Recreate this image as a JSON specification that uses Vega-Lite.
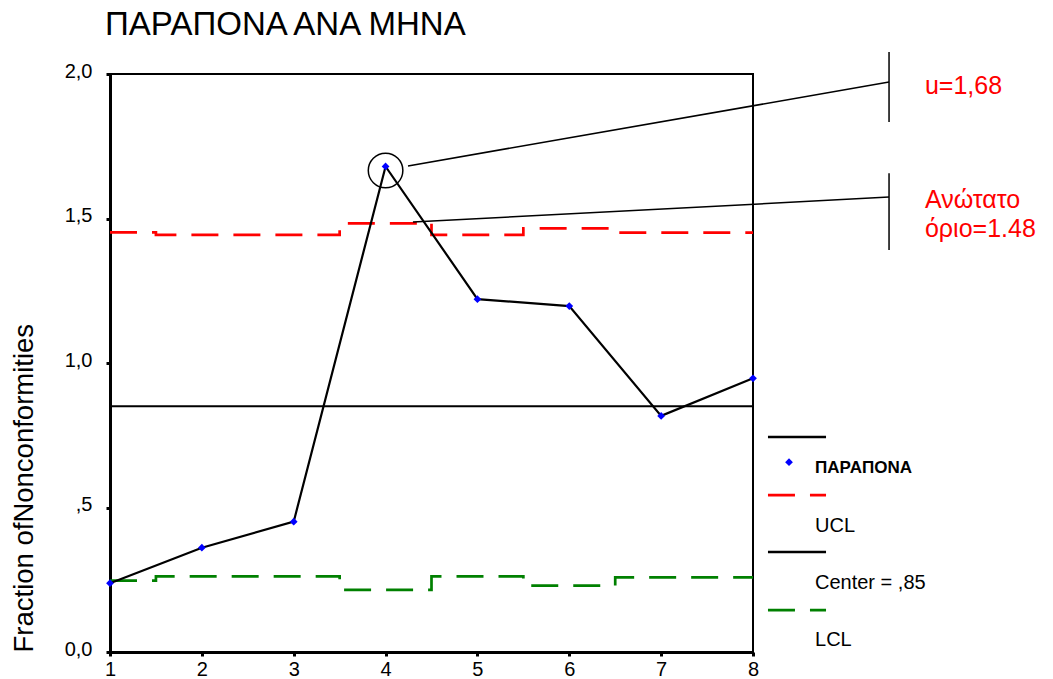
{
  "$schema": "https://vega.github.io/schema/vega-lite/v6.json",
  "width": 643,
  "height": 578,
  "autosize": {"type": "none"},
  "padding": {"left": 110, "top": 74, "right": 300, "bottom": 27},
  "background": "white",
  "config": {
    "font": "Liberation Sans",
    "view": {"stroke": "black", "strokeWidth": 2},
    "axis": {"grid": false, "domainColor": "black", "domainWidth": 3, "tickColor": "black", "labelColor": "black", "titleColor": "black", "labelFont": "Liberation Sans", "titleFont": "Liberation Sans", "labelFontSize": 20, "tickSize": 4, "tickWidth": 3, "labelFlush": false}
  },
  "title": {
    "text": "ΠΑΡΑΠΟΝΑ ΑΝΑ ΜΗΝΑ",
    "anchor": "start",
    "frame": "group",
    "dx": -5,
    "offset": 9,
    "fontSize": 33,
    "fontWeight": "normal",
    "font": "Liberation Sans",
    "color": "black"
  },
  "datasets": {
    "months": [
      {"month": 1, "u": 0.238, "ucl": 1.452, "lcl": 0.247, "center": 0.85},
      {"month": 2, "u": 0.361, "ucl": 1.443, "lcl": 0.262, "center": 0.85},
      {"month": 3, "u": 0.451, "ucl": 1.443, "lcl": 0.262, "center": 0.85},
      {"month": 4, "u": 1.68, "ucl": 1.483, "lcl": 0.215, "center": 0.85},
      {"month": 5, "u": 1.221, "ucl": 1.443, "lcl": 0.262, "center": 0.85},
      {"month": 6, "u": 1.197, "ucl": 1.466, "lcl": 0.23, "center": 0.85},
      {"month": 7, "u": 0.817, "ucl": 1.451, "lcl": 0.258, "center": 0.85},
      {"month": 8, "u": 0.947, "ucl": 1.451, "lcl": 0.258, "center": 0.85}
    ],
    "callouts": [
      {"xa": 4.244, "ya": 1.682, "xb": 9.481, "yb": 1.972},
      {"xa": 9.481, "ya": 2.076, "xb": 9.481, "yb": 1.834},
      {"xa": 4.298, "ya": 1.488, "xb": 9.481, "yb": 1.574},
      {"xa": 9.481, "ya": 1.657, "xb": 9.481, "yb": 1.391}
    ],
    "notes": [
      {"x": 9.872, "y": 1.931, "text": "u=1,68"},
      {"x": 9.872, "y": 1.536, "text": "Ανώτατο"},
      {"x": 9.872, "y": 1.436, "text": "όριο=1.48"}
    ],
    "keyLines": [
      {"x": 8.163, "x2": 8.795, "y": 0.744, "item": "series"},
      {"x": 8.163, "x2": 8.795, "y": 0.543, "item": "ucl"},
      {"x": 8.163, "x2": 8.795, "y": 0.346, "item": "center"},
      {"x": 8.163, "x2": 8.795, "y": 0.145, "item": "lcl"}
    ],
    "keyText": [
      {"x": 8.675, "y": 0.6367, "text": "ΠΑΡΑΠΟΝΑ", "weight": "bold"},
      {"x": 8.675, "y": 0.436, "text": "UCL", "weight": "normal"},
      {"x": 8.675, "y": 0.2388, "text": "Center = ,85", "weight": "normal"},
      {"x": 8.675, "y": 0.0415, "text": "LCL", "weight": "normal"}
    ]
  },
  "layer": [
    {
      "data": {"name": "months"},
      "mark": {"type": "line", "interpolate": "step", "color": "#ff0000", "strokeWidth": 2.7, "strokeDash": [27, 15]},
      "encoding": {
        "x": {"field": "month", "type": "quantitative", "scale": {"domain": [1, 8], "nice": false, "zero": false},
          "axis": {"values": [1, 2, 3, 4, 5, 6, 7, 8], "format": "d", "title": null, "labelPadding": 3}},
        "y": {"field": "ucl", "type": "quantitative", "scale": {"domain": [0, 2], "nice": false, "zero": true},
          "axis": {"values": [0, 0.5, 1, 1.5, 2], "title": "Fraction ofNonconformities", "titleFontSize": 27.5, "titleFontWeight": "normal",
            "titleAngle": 270, "titleX": -78, "titleY": 578, "titleAlign": "left", "titleBaseline": "alphabetic",
            "labelExpr": "datum.value == 0 ? '0,0' : datum.value < 1 ? ',5' : replace(format(datum.value, '.1f'), '.', ',')",
            "labelPadding": 14, "labelBaseline": "middle", "labelOffset": -3}}
      }
    },
    {
      "data": {"name": "months"},
      "mark": {"type": "line", "interpolate": "step", "color": "#008000", "strokeWidth": 2.7, "strokeDash": [27, 15]},
      "encoding": {
        "x": {"field": "month", "type": "quantitative"},
        "y": {"field": "lcl", "type": "quantitative"}
      }
    },
    {
      "data": {"name": "months"},
      "mark": {"type": "line", "color": "black", "strokeWidth": 2},
      "encoding": {
        "x": {"field": "month", "type": "quantitative"},
        "y": {"field": "center", "type": "quantitative"}
      }
    },
    {
      "data": {"name": "months"},
      "mark": {"type": "line", "color": "black", "strokeWidth": 2.2},
      "encoding": {
        "x": {"field": "month", "type": "quantitative"},
        "y": {"field": "u", "type": "quantitative"}
      }
    },
    {
      "data": {"name": "months"},
      "mark": {"type": "point", "shape": "diamond", "filled": true, "color": "#0000ff", "size": 60, "opacity": 1},
      "encoding": {
        "x": {"field": "month", "type": "quantitative"},
        "y": {"field": "u", "type": "quantitative"}
      }
    },
    {
      "data": {"name": "months"},
      "transform": [{"filter": "datum.month == 4"}],
      "mark": {"type": "point", "shape": "circle", "filled": false, "color": "black", "strokeWidth": 1.5, "size": 1195, "opacity": 1, "yOffset": 4},
      "encoding": {
        "x": {"field": "month", "type": "quantitative"},
        "y": {"field": "u", "type": "quantitative"}
      }
    },
    {
      "data": {"name": "callouts"},
      "mark": {"type": "rule", "color": "black", "strokeWidth": 1.5},
      "encoding": {
        "x": {"field": "xa", "type": "quantitative"},
        "y": {"field": "ya", "type": "quantitative"},
        "x2": {"field": "xb"},
        "y2": {"field": "yb"}
      }
    },
    {
      "data": {"name": "notes"},
      "mark": {"type": "text", "align": "left", "baseline": "alphabetic", "fontSize": 25, "color": "#ff0000", "font": "Liberation Sans"},
      "encoding": {
        "x": {"field": "x", "type": "quantitative"},
        "y": {"field": "y", "type": "quantitative"},
        "text": {"field": "text"}
      }
    },
    {
      "data": {"name": "keyLines"},
      "transform": [{"filter": "datum.item == 'series' || datum.item == 'center'"}],
      "mark": {"type": "rule", "color": "black", "strokeWidth": 2.5},
      "encoding": {
        "x": {"field": "x", "type": "quantitative"},
        "x2": {"field": "x2"},
        "y": {"field": "y", "type": "quantitative"}
      }
    },
    {
      "data": {"name": "keyLines"},
      "transform": [{"filter": "datum.item == 'ucl'"}],
      "mark": {"type": "rule", "color": "#ff0000", "strokeWidth": 2.7, "strokeDash": [27, 15]},
      "encoding": {
        "x": {"field": "x", "type": "quantitative"},
        "x2": {"field": "x2"},
        "y": {"field": "y", "type": "quantitative"}
      }
    },
    {
      "data": {"name": "keyLines"},
      "transform": [{"filter": "datum.item == 'lcl'"}],
      "mark": {"type": "rule", "color": "#008000", "strokeWidth": 2.7, "strokeDash": [27, 15]},
      "encoding": {
        "x": {"field": "x", "type": "quantitative"},
        "x2": {"field": "x2"},
        "y": {"field": "y", "type": "quantitative"}
      }
    },
    {
      "data": {"values": [{"x": 8.392, "y": 0.657}]},
      "mark": {"type": "point", "shape": "diamond", "filled": true, "color": "#0000ff", "size": 60, "opacity": 1},
      "encoding": {
        "x": {"field": "x", "type": "quantitative"},
        "y": {"field": "y", "type": "quantitative"}
      }
    },
    {
      "data": {"name": "keyText"},
      "transform": [{"filter": "datum.weight == 'bold'"}],
      "mark": {"type": "text", "align": "left", "baseline": "middle", "fontSize": 17, "fontWeight": "bold", "color": "black", "font": "Liberation Sans"},
      "encoding": {
        "x": {"field": "x", "type": "quantitative"},
        "y": {"field": "y", "type": "quantitative"},
        "text": {"field": "text"}
      }
    },
    {
      "data": {"name": "keyText"},
      "transform": [{"filter": "datum.weight == 'normal'"}],
      "mark": {"type": "text", "align": "left", "baseline": "middle", "fontSize": 20, "color": "black", "font": "Liberation Sans"},
      "encoding": {
        "x": {"field": "x", "type": "quantitative"},
        "y": {"field": "y", "type": "quantitative"},
        "text": {"field": "text"}
      }
    }
  ]
}
